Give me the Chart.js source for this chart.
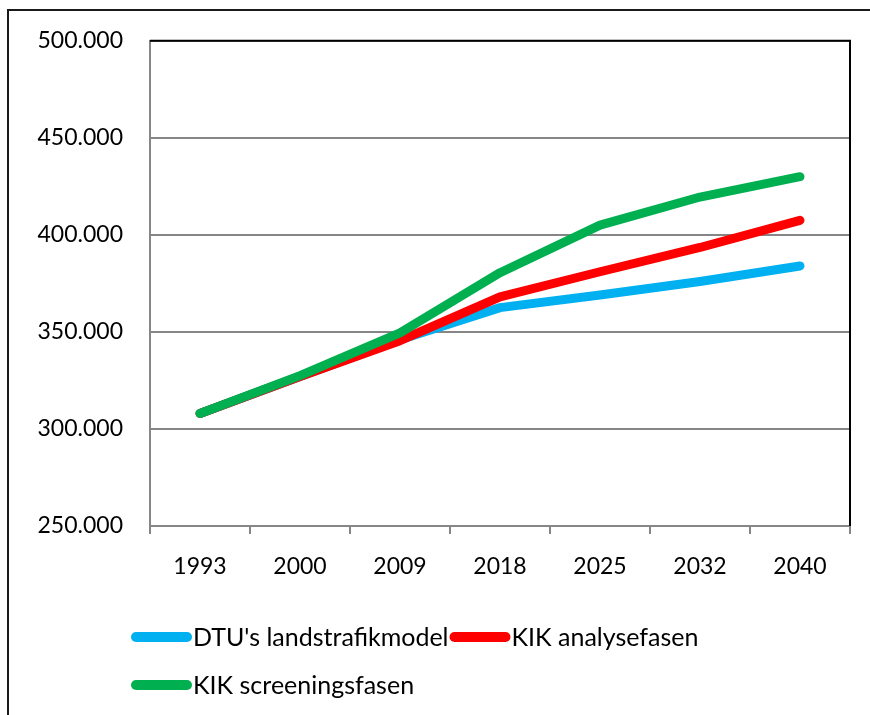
<!DOCTYPE html>
<html><head><meta charset="utf-8">
<script src="https://cdn.jsdelivr.net/npm/chart.js@4"></script>
<style>html,body{margin:0;padding:0;background:#fff;}</style>
</head><body>
<canvas id="c" width="870" height="715"></canvas>
<script>
const categories = ['1993', '2000', '2009', '2018', '2025', '2032', '2040'];
const dtuValues = [308000, 327000, 346000, 362500, 369000, 376000, 384000];
const analyseValues = [308000, 327000, 345500, 368000, 381000, 393500, 407500];
const screeningValues = [308000, 327500, 349500, 380500, 405000, 419500, 430000];
const seriesLabels = ["DTU's landstrafikmodel", "KIK analysefasen", "KIK screeningsfasen"];
const seriesColors = ['#00B0F0', '#FF0000', '#00B050'];
const yMin = 250000, yMax = 500000, yStep = 50000;

const FONT = 'Lato';
function fmt(v) { return String(v).replace(/\B(?=(\d{3})+(?!\d))/g, '.'); }

const framePlugin = {
  id: 'frame',
  beforeDraw(chart) {
    const ctx = chart.ctx;
    ctx.save();
    ctx.fillStyle = '#fff';
    ctx.fillRect(0, 0, chart.width, chart.height);
    ctx.strokeStyle = '#1a1a1a';
    ctx.lineWidth = 2;
    ctx.beginPath();
    ctx.moveTo(8, chart.height + 5);
    ctx.lineTo(8, 10);
    ctx.lineTo(chart.width + 5, 10);
    ctx.stroke();
    ctx.restore();
  },
  afterDraw(chart) {
    const ctx = chart.ctx, a = chart.chartArea;
    ctx.save();
    ctx.strokeStyle = '#000';
    ctx.lineWidth = 2;
    ctx.beginPath();
    ctx.moveTo(a.left, a.top);
    ctx.lineTo(a.right, a.top);
    ctx.lineTo(a.right, a.bottom);
    ctx.stroke();
    // legend
    ctx.font = '25px ' + FONT;
    ctx.textBaseline = 'middle';
    ctx.textAlign = 'left';
    const rows = [[0, 1], [2]];
    const rowY = [638, 686];
    rows.forEach((row, r) => {
      let x = 131;
      row.forEach(i => {
        const ds = chart.data.datasets[i];
        ctx.strokeStyle = ds.borderColor;
        ctx.lineWidth = 10;
        ctx.lineCap = 'round';
        ctx.beginPath();
        ctx.moveTo(x + 5, rowY[r] - 1);
        ctx.lineTo(x + 56, rowY[r] - 1);
        ctx.stroke();
        ctx.fillStyle = '#000';
        ctx.fillText(ds.label, x + 62, rowY[r]);
        x += 62 + ctx.measureText(ds.label).width + 1;
      });
    });
    ctx.restore();
  }
};

const values = [dtuValues, analyseValues, screeningValues];
new Chart(document.getElementById('c'), {
  type: 'line',
  data: {
    labels: categories,
    datasets: values.map((v, i) => ({
      label: seriesLabels[i],
      data: v,
      borderColor: seriesColors[i],
      backgroundColor: seriesColors[i],
      borderWidth: 9,
      pointRadius: 0,
      tension: 0,
      fill: false,
      borderCapStyle: 'round',
      borderJoinStyle: 'round',
      order: 2 - i
    }))
  },
  options: {
    responsive: false,
    animation: false,
    layout: { padding: { top: 39, right: 20, bottom: 129, left: 0 } },
    plugins: { legend: { display: false }, tooltip: { enabled: false } },
    scales: {
      x: {
        offset: true,
        afterFit(s) { s.height = 60; },
        grid: { display: true, drawOnChartArea: false, offset: true, color: '#868686', lineWidth: 2, tickLength: 8 },
        border: { display: true, color: '#868686', width: 2 },
        ticks: { color: '#000', font: { family: FONT, size: 23 }, padding: 19, maxRotation: 0 }
      },
      y: {
        min: yMin, max: yMax,
        afterFit(s) { s.width = 150; },
        grid: { color: '#868686', lineWidth: 2, drawTicks: false },
        border: { display: true, color: '#868686', width: 2 },
        ticks: { stepSize: yStep, color: '#000', font: { family: FONT, size: 23 }, padding: 27, callback: v => fmt(v) }
      }
    }
  },
  plugins: [framePlugin]
});
</script>
</body></html>
